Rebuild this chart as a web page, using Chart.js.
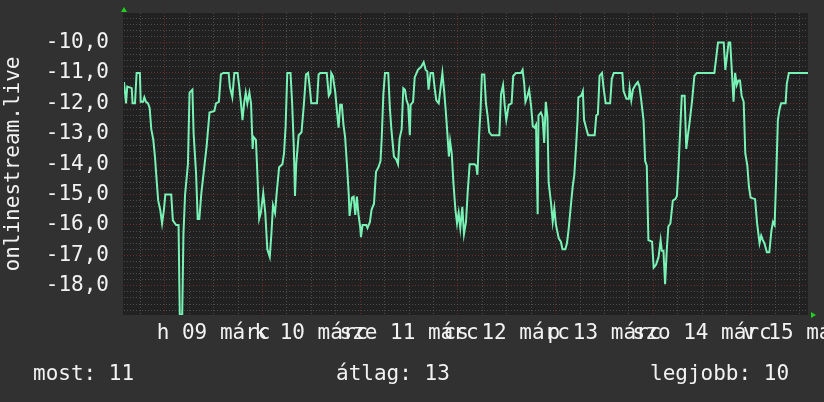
<!DOCTYPE html>
<html>
<head>
<meta charset="utf-8">
<script src="https://cdn.jsdelivr.net/npm/chart.js@4"></script>
<style>
  html, body { margin: 0; padding: 0; background: #313131; }
  #wrap { position: relative; width: 824px; height: 402px; }
  .stat { position: absolute; top: 361px; color: #f2f2f2; font: 21px "DejaVu Sans Mono", monospace; white-space: pre; }
</style>
</head>
<body>
<div id="wrap">
  <canvas id="chart" width="824" height="402"></canvas>
  <div class="stat" style="left:33px">most: 11</div>
  <div class="stat" style="left:336px">átlag: 13</div>
  <div class="stat" style="left:650px">legjobb: 10</div>
</div>
<script>
// hours counted from 09 márc 00:00
const hours = [
  -10, -9.5, -9.2, -8.1, -7.9, -7.3, -6.9, -6.1, -5.9, -5.3, -5.0, -4.6, -4.1, -3.7, -3.3, -2.8, -2.4, -2.0, -1.6, -1.1, -0.65, -0.2,
  0.15, 1.6, 2.0, 2.8, 3.4, 3.7, 4.3, 4.6, 5.0, 5.7, 6.1, 6.8, 7.1, 7.7, 8.1, 8.5, 9.0, 9.8, 10.3, 11.0, 12.2, 12.6, 13.3, 13.8,
  14.4, 15.7, 16.0, 16.6, 17.1, 17.9, 18.3, 18.7, 19.1, 19.5, 19.9, 20.3, 20.8, 21.2, 21.6, 21.8, 22.4, 22.8, 23.2, 23.6,
  24.2, 24.7, 25.2, 25.8, 26.2, 26.6, 27.1, 27.5, 28.1, 28.9, 29.3, 29.7, 30.1, 30.9, 31.3, 31.7, 32.0, 32.3, 32.9, 33.6,
  34.2, 34.7, 35.2, 35.6, 36.0, 37.4, 37.8, 38.2, 39.8, 40.3, 40.7, 40.9, 41.3, 41.9, 42.3, 42.7, 43.1, 43.5, 43.9, 44.3,
  44.8, 45.2, 45.4, 46.0, 46.4, 46.8, 47.2, 47.6, 48.0, 48.2, 48.6, 49.5, 49.8, 50.4, 50.8, 51.4, 51.9, 52.5, 53.0, 53.3,
  53.7, 54.1, 54.9, 55.3, 55.7, 56.3, 56.9, 57.3, 57.7, 58.2, 58.6, 59.0, 59.4, 59.8, 60.2, 60.4, 61.0, 61.4, 62.2, 63.0,
  63.6, 64.1, 64.5, 64.8, 65.3, 65.9, 66.3, 66.7, 67.3, 67.7, 68.2, 68.6, 69.0, 69.3, 69.8, 70.1, 70.5, 70.9, 71.4, 71.8,
  72.2, 72.6, 73.1, 73.5, 74.0, 74.4, 74.9, 76.1, 76.5, 76.8, 77.2, 77.6, 77.9, 78.5, 78.9, 79.3, 79.7, 80.3, 82.2, 82.6,
  83.1, 83.5, 83.9, 84.5, 85.2, 85.6, 86.3, 87.5, 87.9, 88.3, 88.6, 89.0, 89.5, 90.0, 90.4, 90.8, 91.2, 91.6, 91.8, 92.4,
  92.8, 93.2, 93.6, 94.0, 94.3, 94.9, 95.3, 95.7, 96.1, 96.8, 97.3, 97.7, 98.4, 98.8, 99.2, 99.8, 100.2, 100.6, 101.0, 101.4,
  101.6, 102.3, 102.7, 103.0, 103.5, 104.0, 105.6, 106.0, 106.4, 106.8, 107.4, 107.8, 108.3, 109.4, 109.8, 110.3, 112.4, 112.7,
  113.4, 114.0, 114.2, 114.6, 115.0, 115.6, 116.2, 116.6, 117.0, 117.6, 118.0, 118.4, 118.8, 119.7, 120.1, 120.7, 121.3, 121.8,
  122.1, 122.5, 122.9, 123.3, 123.7, 124.2, 124.8, 125.4, 125.8, 126.2, 126.6, 127.0, 127.7, 128.1, 128.5, 128.9, 129.5, 130.1,
  130.7, 135.0, 135.5, 135.9, 137.3, 137.7, 138.1, 138.5, 138.9, 139.3, 139.7, 140.1, 140.5, 140.9, 141.3, 141.7, 142.2, 142.6,
  143.1, 143.5, 143.9, 145.0, 145.5, 146.1, 146.5, 146.9, 147.3, 147.9, 148.5, 149.0, 149.4, 149.8, 150.2, 150.6, 151.0, 151.4,
  152.5, 152.8, 153.3, 158.0
];
const temps = [
  -11.3, -12.0, -11.45, -11.5, -12.0, -12.0, -11.0, -11.0, -11.95, -11.95, -11.8, -11.95, -12.0, -12.15, -12.85, -13.2, -13.75, -14.5, -15.2, -15.5, -15.95, -15.5,
  -15.0, -15.0, -15.85, -16.0, -16.0, -18.95, -18.95, -16.3, -15.0, -14.0, -11.65, -11.55, -13.0, -14.3, -15.8, -15.8, -14.95, -14.0, -13.4, -12.3, -12.25, -12.0, -11.95, -11.05,
  -11.0, -11.0, -11.45, -11.8, -11.0, -11.0, -11.45, -11.95, -12.55, -12.0, -11.65, -12.0, -11.65, -12.0, -13.5, -13.1, -13.2, -14.45, -15.8, -15.6,
  -14.95, -15.6, -16.8, -17.05, -16.3, -15.35, -15.6, -14.95, -14.1, -14.0, -13.65, -12.75, -11.0, -11.0, -12.0, -13.4, -15.05, -14.0, -13.05, -12.95,
  -12.0, -11.05, -11.0, -11.45, -12.0, -12.0, -11.05, -11.0, -11.0, -11.75, -11.65, -11.0, -11.1, -11.65, -12.25, -12.8, -12.05, -12.05, -12.7, -13.1,
  -14.1, -15.0, -15.7, -15.1, -15.07, -15.67, -15.07, -15.67, -16.05, -16.4, -16.0, -16.0, -16.1, -15.9, -15.5, -15.3, -14.25, -14.1, -13.9, -13.15,
  -11.7, -11.0, -11.0, -12.15, -12.9, -13.75, -13.85, -14.0, -13.15, -12.85, -11.5, -11.55, -11.9, -12.05, -13.05, -12.05, -11.95, -11.15, -10.9, -10.8,
  -10.65, -10.9, -10.95, -11.55, -11.0, -11.0, -11.5, -11.9, -12.0, -11.55, -11.0, -11.55, -12.2, -12.75, -13.75, -13.25, -13.65, -14.6, -15.5, -15.95,
  -15.6, -16.1, -15.4, -16.3, -15.9, -14.95, -14.0, -14.0, -14.05, -14.35, -13.1, -12.15, -11.05, -11.05, -12.0, -12.4, -12.95, -13.05, -13.05, -11.7,
  -11.4, -12.05, -12.55, -12.05, -12.0, -11.1, -11.0, -11.0, -10.9, -11.35, -11.95, -11.8, -11.55, -12.1, -12.75, -12.8, -12.7, -15.65, -12.4, -12.3,
  -12.45, -13.3, -11.95, -12.45, -14.6, -15.3, -15.9, -15.45, -16.0, -16.45, -16.55, -16.8, -16.8, -16.6, -16.15, -15.3, -14.75, -14.35, -13.5, -12.55,
  -11.8, -11.75, -11.6, -12.55, -12.8, -13.05, -13.05, -12.4, -12.35, -11.1, -11.0, -11.5, -12.0, -12.0, -11.2, -11.0, -11.0, -11.6,
  -11.85, -11.85, -11.5, -11.9, -11.55, -11.4, -11.3, -11.45, -11.85, -12.55, -13.9, -14.05, -16.5, -16.55, -17.4, -17.3, -17.05, -16.5,
  -16.85, -16.85, -17.95, -16.85, -16.05, -15.95, -15.2, -15.15, -15.05, -14.1, -12.9, -11.75, -11.75, -13.5, -13.05, -12.65, -11.95, -11.1,
  -11.0, -11.0, -10.45, -10.0, -10.0, -10.9, -10.45, -10.0, -10.0, -10.95, -11.95, -11.0, -11.4, -11.25, -11.25, -11.75, -11.95, -13.65,
  -14.05, -14.75, -15.1, -15.15, -15.95, -16.6, -16.35, -16.5, -16.6, -16.9, -16.9, -16.2, -15.9, -16.0, -14.4, -12.55, -12.2, -12.0,
  -12.0, -11.35, -11.0, -11.0
];
const dayLabels = ['h 09 márc', 'k 10 márc', 'sze 11 márc', 'cs 12 márc', 'p 13 márc', 'szo 14 márc', 'v 15 márc'];
const yLabelled = [-10, -11, -12, -13, -14, -15, -16, -17, -18];

const font = { family: 'DejaVu Sans Mono', size: 21 };
const gray = 'rgba(105,105,105,0.6)';
const red = 'rgba(135,45,45,0.75)';

const isInt = v => Math.abs(v - Math.round(v)) < 1e-6;

// dark plot area and the small green arrows rrdtool draws
const frame = {
  id: 'frame',
  beforeDraw(chart) {
    const { ctx, chartArea: a } = chart;
    ctx.save();
    ctx.fillStyle = '#212121';
    ctx.fillRect(a.left - 1, a.top, a.right - a.left + 1, a.bottom - a.top);
    ctx.restore();
  },
  afterDraw(chart) {
    const { ctx, chartArea: a } = chart;
    ctx.save();
    ctx.fillStyle = '#1fd11f';
    ctx.beginPath();
    ctx.moveTo(a.left - 3, a.top - 1);
    ctx.lineTo(a.left + 3, a.top - 1);
    ctx.lineTo(a.left, a.top - 6);
    ctx.fill();
    ctx.beginPath();
    ctx.moveTo(a.right + 3, a.bottom - 3);
    ctx.lineTo(a.right + 3, a.bottom + 3);
    ctx.lineTo(a.right + 8, a.bottom);
    ctx.fill();
    ctx.restore();
  }
};

new Chart(document.getElementById('chart'), {
  type: 'line',
  data: {
    datasets: [{
      data: hours.map((h, i) => ({ x: h, y: temps[i] })),
      borderColor: '#79f2b6',
      borderWidth: 2,
      pointRadius: 0,
      tension: 0,
      fill: false
    }]
  },
  options: {
    responsive: false,
    animation: false,
    layout: { padding: { top: 13, right: 16, left: 0, bottom: 0 } },
    plugins: { legend: { display: false }, tooltip: { enabled: false } },
    scales: {
      x: {
        type: 'linear',
        min: -10,
        max: 158,
        afterBuildTicks: s => {
          s.ticks = [];
          for (let h = -6; h <= 156; h += 6) s.ticks.push({ value: h });
        },
        afterFit: s => { s.height = 87; s.paddingLeft = 0; s.paddingRight = 0; },
        grid: {
          color: c => (c.tick && ((c.tick.value % 24) + 24) % 24 === 0) ? red : gray,
          drawTicks: false,
          lineWidth: 1
        },
        border: { display: false, dash: [1, 2] },
        ticks: {
          autoSkip: false,
          maxRotation: 0,
          padding: 6,
          color: '#f2f2f2',
          font: font,
          callback: v => (((v % 24) + 24) % 24 === 12) ? dayLabels[(v - 12) / 24] : ''
        }
      },
      y: {
        min: -18.96,
        max: -9.03,
        afterBuildTicks: s => {
          s.ticks = [];
          for (let k = -94; k <= -46; k++) s.ticks.push({ value: k / 5 });
        },
        afterFit: s => { s.width = 124; s.paddingTop = 0; s.paddingBottom = 0; },
        grid: {
          color: c => (c.tick && isInt(c.tick.value)) ? red : gray,
          drawTicks: false,
          lineWidth: 1
        },
        border: { display: false, dash: [1, 2] },
        title: {
          display: true,
          text: 'onlinestream.live',
          color: '#f2f2f2',
          font: font,
          padding: { top: 1, bottom: 0 }
        },
        ticks: {
          autoSkip: false,
          padding: 15,
          color: '#f2f2f2',
          font: font,
          callback: v => (isInt(v) && yLabelled.includes(Math.round(v))) ? v.toFixed(1).replace('.', ',') : ''
        }
      }
    }
  },
  plugins: [frame]
});
</script>
</body>
</html>
